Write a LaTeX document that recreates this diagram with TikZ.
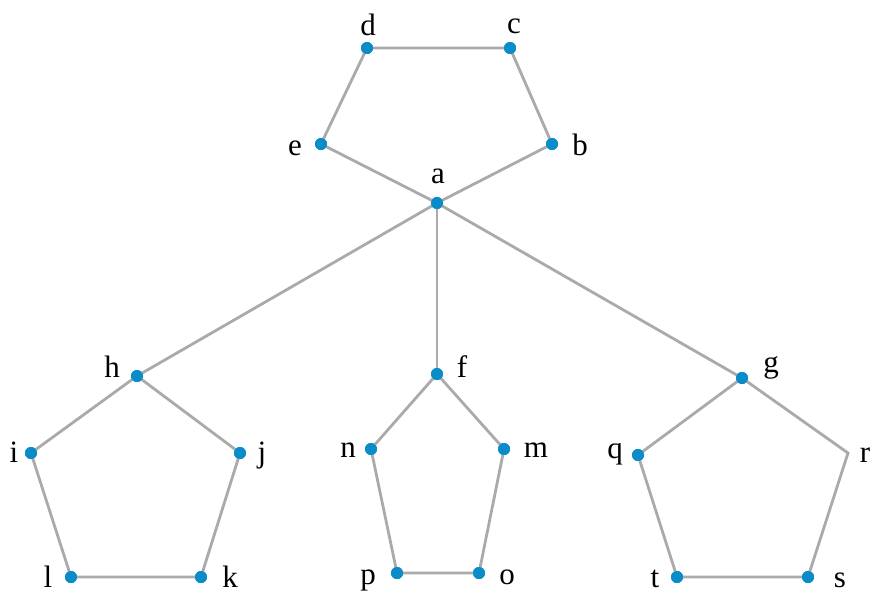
\documentclass[tikz,border=0pt]{standalone}
\usepackage{fontspec}
\setmainfont{Liberation Serif}
\definecolor{dotblue}{RGB}{10,140,200}
\definecolor{edgegray}{RGB}{170,170,170}
\begin{document}
\begin{tikzpicture}[x=1pt,y=-1pt,
  vtx/.style={circle,fill=dotblue,inner sep=0pt,minimum size=12pt},
  hid/.style={circle,inner sep=0pt,minimum size=0pt},
  lbl/.style={anchor=base,font=\fontsize{31}{31}\selectfont,inner sep=0pt},
  edge/.style={draw=edgegray,line width=2.8pt}]
\useasboundingbox (0,0) rectangle (872,600);
% vertices
\node[vtx] (d) at (367,48) {};
\node[vtx] (c) at (510,48) {};
\node[vtx] (e) at (321,144) {};
\node[vtx] (b) at (552,144) {};
\node[vtx] (a) at (437,203) {};
\node[vtx] (h) at (137,376) {};
\node[vtx] (f) at (437,374) {};
\node[vtx] (g) at (742,378) {};
\node[vtx] (i) at (31,453) {};
\node[vtx] (j) at (240,453) {};
\node[vtx] (n) at (371,449) {};
\node[vtx] (m) at (504,449) {};
\node[vtx] (q) at (638,455) {};
\node[hid] (r) at (848,453) {};
\node[vtx] (l) at (71,577) {};
\node[vtx] (k) at (201,577) {};
\node[vtx] (p) at (397,573) {};
\node[vtx] (o) at (479,573) {};
\node[vtx] (t) at (677,577) {};
\node[vtx] (s) at (808,577) {};
% edges
\draw[edge] (a.center) -- (b.center) -- (c.center) -- (d.center) -- (e.center) -- (a.center);
\draw[edge] (a.center) -- (h.center);
\draw[edge] (a.center) -- (f.center);
\draw[edge] (a.center) -- (g.center);
\draw[edge] (h.center) -- (j.center) -- (k.center) -- (l.center) -- (i.center) -- (h.center);
\draw[edge] (f.center) -- (m.center) -- (o.center) -- (p.center) -- (n.center) -- (f.center);
\draw[edge] (g.center) -- (r.center) -- (s.center) -- (t.center) -- (q.center) -- (g.center);
% redraw dots on top of the edges
\foreach \v in {d,c,e,b,a,h,f,g,i,j,n,m,q,l,k,p,o,t,s}
  \fill[dotblue] (\v) circle (6pt);
% labels
\node[lbl] (ld) at (368,35) {d};
\node[lbl] (lc) at (514,33) {c};
\node[lbl] (le) at (295,155) {e};
\node[lbl] (lb) at (580,155) {b};
\node[lbl] (la) at (438,183) {a};
\node[lbl] (lh) at (112,377) {h};
\node[lbl] (lf) at (462,377) {f};
\node[lbl] (lg) at (771,372) {g};
\node[lbl] (li) at (14,462) {i};
\node[lbl] (lj) at (262,462) {j};
\node[lbl] (ln) at (348,457) {n};
\node[lbl] (lm) at (536,457) {m};
\node[lbl] (lq) at (615,458) {q};
\node[lbl] (lr) at (865,462) {r};
\node[lbl] (ll) at (48,587) {l};
\node[lbl] (lk) at (230,587) {k};
\node[lbl] (lp) at (368,584) {p};
\node[lbl] (lo) at (507,584) {o};
\node[lbl] (lt) at (655,587) {t};
\node[lbl] (ls) at (840,587) {s};
\end{tikzpicture}
\end{document}
